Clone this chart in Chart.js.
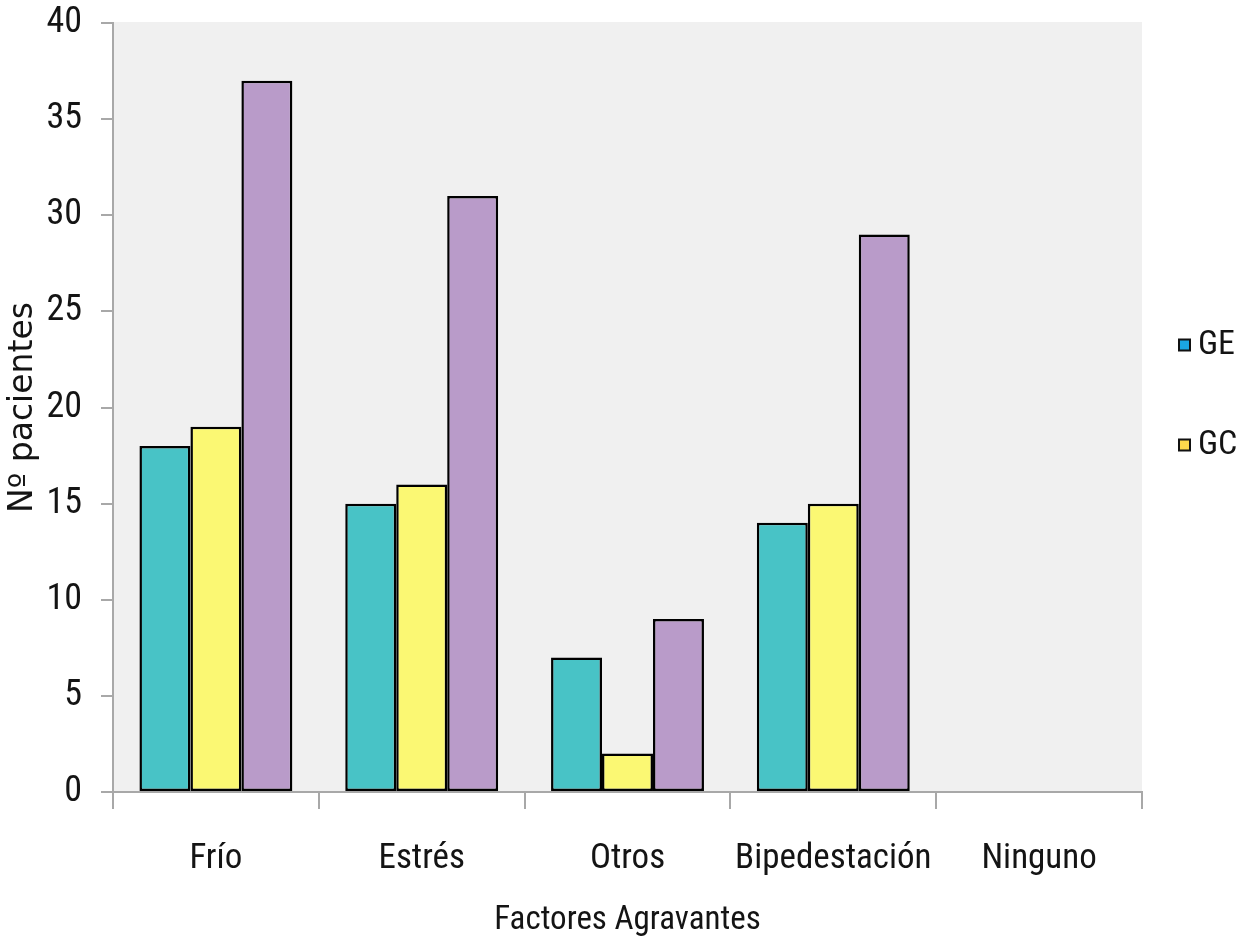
<!DOCTYPE html>
<html>
<head>
<meta charset="utf-8">
<script src="https://cdn.jsdelivr.net/npm/chart.js@4.4.1/dist/chart.umd.min.js"></script>
<style>
  html, body { margin: 0; padding: 0; background: #ffffff; }
  #wrap { width: 1249px; height: 944px; }
</style>
</head>
<body>
<div id="wrap"><canvas id="c" width="1249" height="944"></canvas></div>
<script>
// ---- data ----
const categories = ['Frío', 'Estrés', 'Otros', 'Bipedestación', 'Ninguno'];
const seriesNames = ['GE', 'GC', 'Total'];
const geValues = [18, 15, 7, 14, 0];
const gcValues = [19, 16, 2, 15, 0];
const totalValues = [37, 31, 9, 29, 0];
const yMin = 0;
const yMax = 40;
const yStep = 5;
const xTitle = 'Factores Agravantes';
const yTitle = 'Nº pacientes';

// ---- style ----
const NARROW = "'Liberation Sans Narrow', 'Arial Narrow', 'Roboto Condensed', 'Liberation Sans', sans-serif";
const barColors = ['#48c3c6', '#fbf873', '#b99bc9'];
const legendColors = ['#1aa6e2', '#fdd84c'];
const axisGray = '#a8a8a8';
const textColor = '#141414';

function legendImage(color) {
  const cv = document.createElement('canvas');
  cv.width = 43; cv.height = 15;
  const g = cv.getContext('2d');
  g.fillStyle = color;
  g.fillRect(31, 2, 11, 11);
  g.strokeStyle = '#111';
  g.lineWidth = 2;
  g.strokeRect(31, 2, 11, 11);
  return cv;
}
function blankImage() {
  const cv = document.createElement('canvas');
  cv.width = 1; cv.height = 1;
  return cv;
}

const plotBg = {
  id: 'plotBg',
  beforeDraw(chart) {
    const a = chart.chartArea, ctx = chart.ctx;
    ctx.save();
    ctx.fillStyle = '#f0f0f0';
    ctx.fillRect(a.left, a.top - 1, a.right - a.left, a.bottom - a.top + 1);
    ctx.restore();
  }
};

new Chart(document.getElementById('c'), {
  type: 'bar',
  data: {
    labels: categories,
    datasets: [
      { label: seriesNames[0], data: geValues, backgroundColor: barColors[0] },
      { label: seriesNames[1], data: gcValues, backgroundColor: barColors[1] },
      { label: seriesNames[2], data: totalValues, backgroundColor: barColors[2] }
    ].map(d => Object.assign(d, {
      borderColor: '#000000', borderWidth: 2.5, borderSkipped: false,
      categoryPercentage: 0.743, barPercentage: 1.0
    }))
  },
  options: {
    responsive: false,
    animation: false,
    devicePixelRatio: 1,
    layout: { padding: { left: 0, right: 7, top: 23, bottom: 0 } },
    plugins: {
      tooltip: { enabled: false },
      legend: {
        position: 'right',
        align: 'start',
        fullSize: false,
        maxWidth: 100,
        title: { display: true, text: '', font: { size: 10, lineHeight: 1 }, padding: { top: 279, bottom: 0 } },
        labels: {
          usePointStyle: true,
          pointStyleWidth: 23,
          padding: 16,
          color: textColor,
          font: { family: NARROW, size: 34 },
          generateLabels(chart) {
            return [
              { text: seriesNames[0], fontColor: textColor, pointStyle: legendImage(legendColors[0]), fillStyle: legendColors[0], strokeStyle: '#111', lineWidth: 0, hidden: false, datasetIndex: 0 },
              { text: '', fontColor: textColor, pointStyle: blankImage(), fillStyle: 'transparent', strokeStyle: 'transparent', lineWidth: 0, hidden: false },
              { text: seriesNames[1], fontColor: textColor, pointStyle: legendImage(legendColors[1]), fillStyle: legendColors[1], strokeStyle: '#111', lineWidth: 0, hidden: false, datasetIndex: 1 }
            ];
          }
        }
      }
    },
    scales: {
      x: {
        afterFit(s) { s.height = 152; s.paddingLeft = 0; s.paddingRight = 0; },
        grid: { display: true, drawOnChartArea: false, drawTicks: true, tickLength: 17, color: axisGray, lineWidth: 2, offset: true },
        border: { display: true, color: axisGray, width: 2 },
        ticks: { color: textColor, font: { family: NARROW, size: 35 }, padding: 29, maxRotation: 0 },
        title: { display: true, text: xTitle, color: textColor, font: { family: NARROW, size: 33 }, padding: { top: 0, bottom: 3 } }
      },
      y: {
        min: yMin, max: yMax,
        afterFit(s) { s.width = 113; s.paddingTop = 0; s.paddingBottom = 0; },
        grid: { display: true, drawOnChartArea: false, drawTicks: true, tickLength: 12, color: axisGray, lineWidth: 2 },
        border: { display: true, color: axisGray, width: 2 },
        ticks: { stepSize: yStep, color: textColor, font: { family: NARROW, size: 36 }, padding: 19 },
        title: { display: true, text: yTitle, color: textColor, font: { family: "'DejaVu Sans', sans-serif", size: 33 }, padding: { top: 4, bottom: 0 } }
      }
    }
  },
  plugins: [plotBg]
});
</script>
</body>
</html>
